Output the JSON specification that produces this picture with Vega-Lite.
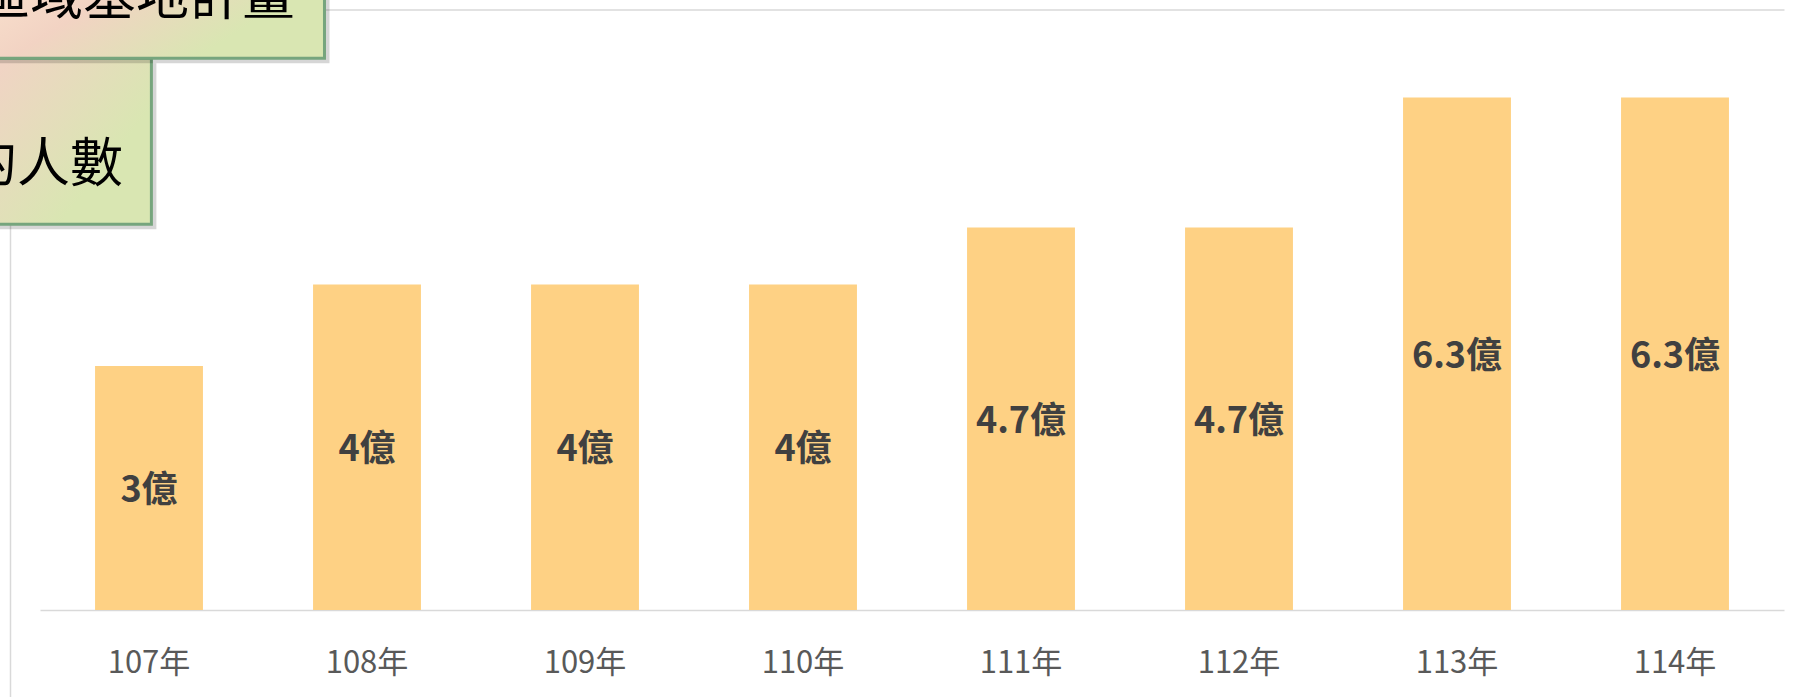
{
  "$schema": "https://vega.github.io/schema/vega-lite/v6.json",
  "width": 1744,
  "height": 600.5,
  "autosize": {"type": "none"},
  "padding": {"left": 40, "top": 9.5, "right": 10, "bottom": 87},
  "background": "#ffffff",
  "config": {"view": {"stroke": null}, "font": "Noto Sans CJK TC"},
  "layer": [
    {
      "data": {"values": [
        {"year": "107年", "value": 3, "label": "3億"},
        {"year": "108年", "value": 4, "label": "4億"},
        {"year": "109年", "value": 4, "label": "4億"},
        {"year": "110年", "value": 4, "label": "4億"},
        {"year": "111年", "value": 4.7, "label": "4.7億"},
        {"year": "112年", "value": 4.7, "label": "4.7億"},
        {"year": "113年", "value": 6.3, "label": "6.3億"},
        {"year": "114年", "value": 6.3, "label": "6.3億"}
      ]},
      "encoding": {
        "x": {
          "field": "year", "type": "nominal", "sort": null,
          "scale": {"paddingInner": 0.505, "paddingOuter": 0.2525},
          "axis": {
            "title": null, "labelAngle": 0, "ticks": false, "tickSize": 0,
            "labelPadding": 53, "labelBaseline": "middle",
            "labelFontSize": 31, "labelColor": "#595959", "labelFont": "Noto Sans CJK TC",
            "domainColor": "#d9d9d9", "domainWidth": 1.5, "grid": false
          }
        }
      },
      "layer": [
        {
          "mark": {"type": "bar", "color": "#fed184"},
          "encoding": {
            "y": {
              "field": "value", "type": "quantitative",
              "scale": {"domain": [-1.069, 7.38], "range": [687.5, 0], "nice": false, "zero": false},
              "axis": {"title": null, "values": [7.38], "labels": false, "ticks": false, "offset": 30,
                       "domainColor": "#d9d9d9", "domainWidth": 1.5, "grid": true, "gridColor": "#d9d9d9", "gridWidth": 1.5}
            }
          }
        },
        {
          "mark": {"type": "text", "fontSize": 36, "fontWeight": "bold", "color": "#404040", "baseline": "middle", "align": "center", "dy": 3},
          "encoding": {
            "y": {
              "field": "value", "type": "quantitative", "stack": "zero", "bandPosition": 0.5,
              "scale": {"domain": [-1.069, 7.38], "range": [687.5, 0], "nice": false, "zero": false},
              "axis": {"title": null, "values": [7.38], "labels": false, "ticks": false, "offset": 30,
                       "domainColor": "#d9d9d9", "domainWidth": 1.5, "grid": true, "gridColor": "#d9d9d9", "gridWidth": 1.5}
            },
            "text": {"field": "label"}
          }
        }
      ]
    },
    {
      "data": {"values": [{"note": "的人數"}]},
      "encoding": {
        "x": {"datum": -1.5, "type": "quantitative", "scale": {"domain": [0, 8], "nice": false, "zero": false}, "axis": null},
        "y": {"datum": 6.78, "type": "quantitative",
              "scale": {"domain": [-1.069, 7.38], "range": [687.5, 0], "nice": false, "zero": false},
              "axis": {"title": null, "values": [7.38], "labels": false, "ticks": false, "offset": 30,
                       "domainColor": "#d9d9d9", "domainWidth": 1.5, "grid": true, "gridColor": "#d9d9d9", "gridWidth": 1.5}}
      },
      "layer": [
        {
          "mark": {"type": "rect", "fill": "#000000", "opacity": 0.16, "xOffset": 5, "x2Offset": 5, "yOffset": 5, "y2Offset": 5},
          "encoding": {"x2": {"datum": 0.511}, "y2": {"datum": 4.74}}
        },
        {
          "mark": {"type": "rect", "stroke": "#76a57d", "strokeWidth": 3,
                   "fill": {"gradient": "linear", "x1": 0, "y1": 0, "x2": 1, "y2": 0.3,
                            "stops": [{"offset": 0, "color": "#fbe4d0"}, {"offset": 0.62, "color": "#f0d4c4"}, {"offset": 1, "color": "#d9e6b2"}]}},
          "encoding": {"x2": {"datum": 0.511}, "y2": {"datum": 4.74}}
        },
        {
          "mark": {"type": "text", "fontSize": 53, "color": "#000000", "align": "right", "baseline": "middle"},
          "encoding": {"x": {"datum": 0.381, "type": "quantitative", "scale": {"domain": [0, 8], "nice": false, "zero": false}, "axis": null},
                       "y": {"datum": 5.46, "type": "quantitative",
                             "scale": {"domain": [-1.069, 7.38], "range": [687.5, 0], "nice": false, "zero": false},
                             "axis": {"title": null, "values": [7.38], "labels": false, "ticks": false, "offset": 30,
                                      "domainColor": "#d9d9d9", "domainWidth": 1.5, "grid": true, "gridColor": "#d9d9d9", "gridWidth": 1.5}},
                       "text": {"field": "note"}}
        }
      ]
    },
    {
      "data": {"values": [{"note": "區域基地計畫"}]},
      "encoding": {
        "x": {"datum": -1.5, "type": "quantitative", "scale": {"domain": [0, 8], "nice": false, "zero": false}, "axis": null},
        "y": {"datum": 8.2, "type": "quantitative",
              "scale": {"domain": [-1.069, 7.38], "range": [687.5, 0], "nice": false, "zero": false},
              "axis": {"title": null, "values": [7.38], "labels": false, "ticks": false, "offset": 30,
                       "domainColor": "#d9d9d9", "domainWidth": 1.5, "grid": true, "gridColor": "#d9d9d9", "gridWidth": 1.5}}
      },
      "layer": [
        {
          "mark": {"type": "rect", "fill": "#000000", "opacity": 0.16, "xOffset": 5, "x2Offset": 5, "yOffset": 5, "y2Offset": 5},
          "encoding": {"x2": {"datum": 1.305}, "y2": {"datum": 6.78}}
        },
        {
          "mark": {"type": "rect", "stroke": "#76a57d", "strokeWidth": 3,
                   "fill": {"gradient": "linear", "x1": 0, "y1": 0, "x2": 1, "y2": 0.3,
                            "stops": [{"offset": 0, "color": "#fdf0e0"}, {"offset": 0.47, "color": "#fbe4d0"}, {"offset": 0.72, "color": "#f2d3c3"}, {"offset": 1, "color": "#d9e6b2"}]}},
          "encoding": {"x2": {"datum": 1.305}, "y2": {"datum": 6.78}}
        },
        {
          "mark": {"type": "text", "fontSize": 53, "color": "#000000", "align": "right", "baseline": "middle"},
          "encoding": {"x": {"datum": 1.17, "type": "quantitative", "scale": {"domain": [0, 8], "nice": false, "zero": false}, "axis": null},
                       "y": {"datum": 7.51, "type": "quantitative",
                             "scale": {"domain": [-1.069, 7.38], "range": [687.5, 0], "nice": false, "zero": false},
                             "axis": {"title": null, "values": [7.38], "labels": false, "ticks": false, "offset": 30,
                                      "domainColor": "#d9d9d9", "domainWidth": 1.5, "grid": true, "gridColor": "#d9d9d9", "gridWidth": 1.5}},
                       "text": {"field": "note"}}
        }
      ]
    }
  ],
  "resolve": {"scale": {"x": "independent"}, "axis": {"x": "independent"}}
}
